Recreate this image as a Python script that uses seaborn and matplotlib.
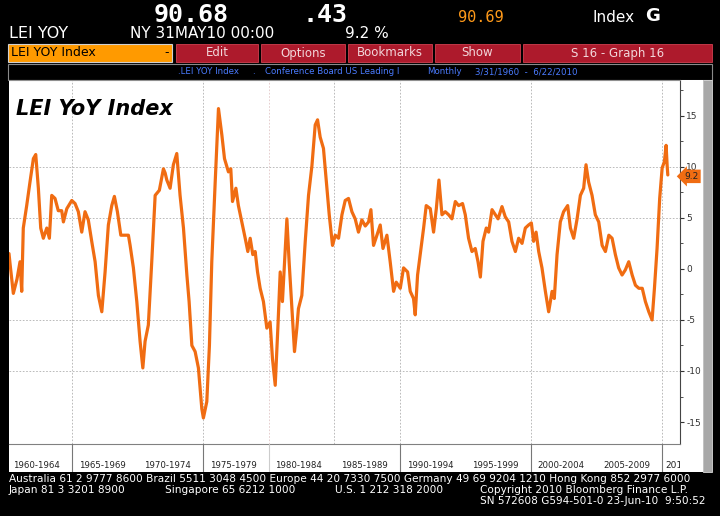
import matplotlib
matplotlib.use("Agg")
import matplotlib.pyplot as plt
import matplotlib.transforms as mtransforms
from matplotlib.patches import Rectangle
import pandas as pd
import seaborn as sns

# LEI YoY, % (decimal years)
years = [1960.19, 1960.27, 1960.52, 1960.80, 1961.03, 1961.16, 1961.28, 1961.54, 1961.79, 1962.05,
         1962.23, 1962.43, 1962.61, 1962.81, 1963.07, 1963.27, 1963.45, 1963.70, 1963.95, 1964.21,
         1964.34, 1964.60, 1964.98, 1965.23, 1965.48, 1965.74, 1965.99, 1966.24, 1966.50, 1966.76,
         1967.01, 1967.27, 1967.52, 1967.77, 1968.03, 1968.23, 1968.46, 1968.72, 1968.97, 1969.30,
         1969.43, 1969.68, 1969.94, 1970.19, 1970.40, 1970.57, 1970.82, 1971.08, 1971.34, 1971.66,
         1971.97, 1972.10, 1972.23, 1972.48, 1972.73, 1972.99, 1973.24, 1973.50, 1973.76, 1973.93,
         1974.14, 1974.39, 1974.64, 1974.90, 1975.02, 1975.28, 1975.48, 1975.66, 1975.92, 1976.17,
         1976.43, 1976.63, 1976.93, 1977.11, 1977.24, 1977.50, 1977.69, 1978.00, 1978.21, 1978.41,
         1978.59, 1978.79, 1978.97, 1979.15, 1979.35, 1979.60, 1979.86, 1980.11, 1980.29, 1980.50,
         1980.70, 1980.88, 1981.05, 1981.21, 1981.39, 1981.56, 1981.77, 1981.97, 1982.15, 1982.27,
         1982.53, 1982.79, 1983.04, 1983.30, 1983.55, 1983.73, 1983.93, 1984.18, 1984.44, 1984.62,
         1984.87, 1985.08, 1985.33, 1985.59, 1985.84, 1986.09, 1986.35, 1986.60, 1986.85, 1987.11,
         1987.37, 1987.62, 1987.80, 1988.00, 1988.26, 1988.51, 1988.72, 1989.02, 1989.27, 1989.53,
         1989.73, 1990.04, 1990.29, 1990.60, 1990.80, 1991.05, 1991.18, 1991.36, 1991.56, 1991.82,
         1992.02, 1992.33, 1992.58, 1992.79, 1992.99, 1993.22, 1993.47, 1993.73, 1993.98, 1994.24,
         1994.49, 1994.79, 1995.00, 1995.25, 1995.51, 1995.76, 1995.97, 1996.15, 1996.35, 1996.60,
         1996.78, 1997.04, 1997.29, 1997.50, 1997.80, 1998.05, 1998.31, 1998.56, 1998.82, 1999.07,
         1999.33, 1999.58, 1999.83, 2000.04, 2000.21, 2000.40, 2000.60, 2000.85, 2001.11, 2001.36,
         2001.62, 2001.79, 2002.00, 2002.25, 2002.50, 2002.81, 2003.02, 2003.27, 2003.53, 2003.78,
         2004.03, 2004.21, 2004.41, 2004.67, 2004.92, 2005.18, 2005.44, 2005.69, 2005.95, 2006.20,
         2006.45, 2006.70, 2006.96, 2007.21, 2007.47, 2007.73, 2007.98, 2008.24, 2008.50, 2008.74,
         2009.00, 2009.25, 2009.43, 2009.63, 2009.83, 2010.02, 2010.19, 2010.32, 2010.40, 2010.45]
lei_yoy = [1.5, 0.5, -2.4, -1.0, 0.7, -2.2, 4.0, 6.2, 8.5, 10.8,
           11.2, 7.9, 4.0, 3.0, 4.0, 3.0, 7.2, 6.9, 5.7, 5.7,
           4.6, 5.9, 6.7, 6.4, 5.6, 3.6, 5.6, 4.8, 2.7, 0.7,
           -2.6, -4.2, -0.3, 4.3, 6.2, 7.1, 5.6, 3.3, 3.3, 3.3,
           2.3, 0.1, -3.2, -7.1, -9.7, -7.1, -5.5, 0.7, 7.2, 7.7,
           9.8, 9.4, 8.7, 7.9, 10.2, 11.3, 7.2, 4.0, -0.6, -3.2,
           -7.5, -8.1, -9.7, -13.7, -14.6, -13.0, -7.5, 0.7, 8.5, 15.7,
           13.1, 10.8, 9.5, 9.8, 6.6, 7.9, 6.2, 4.3, 3.0, 1.7,
           3.0, 1.4, 1.7, -0.3, -1.9, -3.2, -5.8, -5.2, -8.8, -11.4,
           -5.8, -0.3, -3.2, 0.7, 4.9, 0.7, -3.9, -8.1, -5.8, -3.9,
           -2.6, 2.7, 7.2, 10.1, 14.1, 14.6, 12.9, 11.8, 7.9, 5.3,
           2.3, 3.3, 3.0, 5.3, 6.7, 6.9, 5.6, 4.9, 3.6, 4.8,
           4.2, 4.6, 5.8, 2.3, 3.3, 4.3, 2.0, 3.3, 0.7, -2.2,
           -1.3, -1.9, 0.1, -0.3, -2.2, -2.9, -4.5, -0.6, 1.4, 4.0,
           6.2, 5.9, 3.6, 5.9, 8.7, 5.3, 5.6, 5.3, 4.9, 6.6,
           6.2, 6.4, 5.3, 3.0, 1.7, 2.0, 0.7, -0.8, 2.7, 4.0,
           3.6, 5.8, 5.3, 4.9, 6.1, 5.1, 4.6, 2.7, 1.7, 3.0,
           2.5, 4.0, 4.3, 4.5, 2.7, 3.6, 1.7, 0.1, -2.2, -4.2,
           -2.2, -2.9, 1.4, 4.6, 5.6, 6.2, 4.0, 3.0, 4.9, 7.2,
           7.9, 10.2, 8.5, 7.2, 5.3, 4.6, 2.3, 1.7, 3.3, 3.0,
           1.4, 0.1, -0.6, -0.1, 0.7, -0.6, -1.6, -1.9, -1.9, -3.2,
           -4.2, -5.0, -1.9, 2.0, 6.9, 9.9, 10.5, 12.1, 10.1, 9.2]
last_value = 9.2

y_ticks = [-15, -10, -5, 0, 5, 10, 15]
y_minor = [-12.5, -7.5, -2.5, 2.5, 7.5, 12.5, 17.5]
y_grid = [-10, -5, 5, 10]
x_grid = [1965, 1975, 1985, 1990, 2000, 2010]
x_grid_faint = [1980]
band_seps = [1965, 1975, 1990, 2000, 2010]
period_starts = [1960, 1965, 1970, 1975, 1980, 1985, 1990, 1995, 2000, 2005]
period_labels = ["1960-1964", "1965-1969", "1970-1974", "1975-1979", "1980-1984",
                 "1985-1989", "1990-1994", "1995-1999", "2000-2004", "2005-2009"]

df = pd.DataFrame({"year": years, "yoy": lei_yoy})

W, H = 720, 516
ORANGE = "#f06c12"
RED = "#ad1a2c"
NARROW = ["Liberation Sans Narrow", "DejaVu Sans"]

sns.set_theme(style="white")
plt.rcParams["font.family"] = ["DejaVu Sans"]

fig = plt.figure(figsize=(7.2, 5.16), dpi=100, facecolor="black")


def fx(x):
    return x / W


def fy(y):
    return 1 - y / H


def box(x0, y0, x1, y1, **kw):
    fig.add_artist(Rectangle((fx(x0), fy(y1)), fx(x1 - x0), (y1 - y0) / H,
                             transform=fig.transFigure, zorder=-5, **kw))


# header
fig.text(fx(191), fy(15), "90.68", color="white", fontsize=18, fontweight="bold",
         family="DejaVu Sans Mono", ha="center", va="center")
fig.text(fx(325), fy(15), ".43", color="white", fontsize=18, fontweight="bold",
         family="DejaVu Sans Mono", ha="center", va="center")
fig.text(fx(481), fy(17), "90.69", color="#ff9a1a", fontsize=11,
         family="DejaVu Sans Mono", ha="center", va="center")
fig.text(fx(592), fy(17), "Index", color="white", fontsize=11, family=NARROW,
         ha="left", va="center")
fig.text(fx(645), fy(16), "G", color="white", fontsize=13, fontweight="bold",
         ha="left", va="center")
fig.text(fx(9), fy(34), "LEI YOY", color="white", fontsize=11.5, family=NARROW, va="center")
fig.text(fx(130), fy(34), "NY 31MAY10 00:00", color="white", fontsize=11, family=NARROW, va="center")
fig.text(fx(345), fy(34), "9.2 %", color="white", fontsize=11, family=NARROW, va="center")

box(8, 44, 172, 62, fc="#ff9a00", ec="#d0d0d0", lw=0.8)
fig.text(fx(11), fy(53), "LEI YOY Index", color="black", fontsize=9, family=NARROW, va="center")
fig.text(fx(164), fy(53), "-", color="black", fontsize=9, va="center")
buttons = [("Edit", 176, 258), ("Options", 261, 345), ("Bookmarks", 348, 432),
           ("Show", 435, 520), ("S 16 - Graph 16", 523, 712)]
for name, x0, x1 in buttons:
    box(x0, 44, x1, 62, fc=RED, ec="#d04050", lw=0.6)
    fig.text(fx((x0 + x1) / 2), fy(53), name, color="#f2d6da", fontsize=8.5,
             family=NARROW, ha="center", va="center")

box(8, 64, 712, 80, fc="black", ec="#8a8a8a", lw=0.8)
for txt, x in [(".LEI YOY Index", 178), (".", 252), ("Conference Board US Leading I", 265),
               ("Monthly", 427), ("3/31/1960  -  6/22/2010", 475)]:
    fig.text(fx(x), fy(72), txt, color="#4a7bff", fontsize=6.2, family=NARROW, va="center")

# chart panel
box(9, 80, 703, 472, fc="white", ec="none")
box(703, 80, 712, 472, fc="#a8a8a8", ec="#d8d8d8", lw=0.6)

ax = fig.add_axes([fx(9), fy(444), fx(680 - 9), (444 - 80) / H])
ax.set_facecolor("white")
for v in y_grid:
    ax.axhline(v, color="#b0b0b0", lw=0.6, ls=(0, (2, 2)), zorder=1)
for v in x_grid:
    ax.axvline(v, color="#b0b0b0", lw=0.6, ls=(0, (2, 2)), zorder=1)
for v in x_grid_faint:
    ax.axvline(v, color="#e2c6c6", lw=0.6, ls=(0, (2, 2)), zorder=1)

sns.lineplot(data=df, x="year", y="yoy", ax=ax, color=ORANGE, linewidth=2.3,
             legend=False, zorder=3)

ax.set_xlim(1960.19, 2011.38)
ax.set_ylim(-17.15, 18.5)
ax.set_xlabel("")
ax.set_ylabel("")
ax.yaxis.tick_right()
ax.set_yticks(y_ticks)
ax.set_yticklabels([str(t) for t in y_ticks])
ax.set_yticks(y_minor, minor=True)
ax.tick_params(axis="y", which="major", direction="out", length=3, width=0.8,
               colors="#333333", labelsize=6.5, pad=1.5)
ax.tick_params(axis="y", which="minor", direction="out", length=2, width=0.6, color="#333333")
ax.set_xticks(range(1961, 2011))
ax.set_xticklabels([])
ax.tick_params(axis="x", direction="out", length=3, width=0.6, color="#666666")
ax.spines["left"].set_visible(False)
ax.spines["top"].set_color("#909090")
ax.spines["right"].set_color("#444444")
ax.spines["bottom"].set_color("#808080")
for s in ax.spines.values():
    s.set_linewidth(0.8)

ax.text(0.01, 0.92, "LEI YoY Index", transform=ax.transAxes, fontsize=15,
        fontweight="bold", fontstyle="italic", color="black", va="center")

trans = mtransforms.blended_transform_factory(ax.transAxes, ax.transData)
ax.annotate(f"{last_value:.1f}", xy=(1.0, last_value), xycoords=trans,
            xytext=(3, -1), textcoords="offset points", ha="left", va="center",
            fontsize=6.5, color="#222222", annotation_clip=False, zorder=10,
            bbox=dict(boxstyle="larrow,pad=0.25", fc=ORANGE, ec="none"))

# period band under the chart
bx = fig.add_axes([fx(9), fy(472), fx(680 - 9), 28 / H])
bx.set_xlim(1960.19, 2011.38)
bx.set_ylim(0, 1)
bx.axis("off")
for v in band_seps:
    bx.axvline(v, color="#777777", lw=0.8)
bx.axvline(1980, color="#cccccc", lw=0.8)
for start, lab in zip(period_starts, period_labels):
    bx.text(start + 2.3, 0.22, lab, ha="center", va="center", fontsize=6.2,
            family=NARROW, color="#222222")
bx.text(2010.3, 0.22, "201", ha="left", va="center", fontsize=6.5, family=NARROW,
        color="#222222", clip_on=True)

# footer
FOOT = 7.6
fig.text(fx(9), fy(479), "Australia 61 2 9777 8600 Brazil 5511 3048 4500 Europe 44 20 7330 7500 "
         "Germany 49 69 9204 1210 Hong Kong 852 2977 6000", color="white", fontsize=FOOT,
         family=NARROW, va="center")
fig.text(fx(9), fy(490), "Japan 81 3 3201 8900", color="white", fontsize=FOOT, family=NARROW, va="center")
fig.text(fx(165), fy(490), "Singapore 65 6212 1000", color="white", fontsize=FOOT, family=NARROW, va="center")
fig.text(fx(335), fy(490), "U.S. 1 212 318 2000", color="white", fontsize=FOOT, family=NARROW, va="center")
fig.text(fx(480), fy(490), "Copyright 2010 Bloomberg Finance L.P.", color="white", fontsize=FOOT,
         family=NARROW, va="center")
fig.text(fx(706), fy(501), "SN 572608 G594-501-0 23-Jun-10  9:50:52", color="white", fontsize=FOOT,
         family=NARROW, ha="right", va="center")

fig.savefig("out.png", dpi=100, facecolor="black")
